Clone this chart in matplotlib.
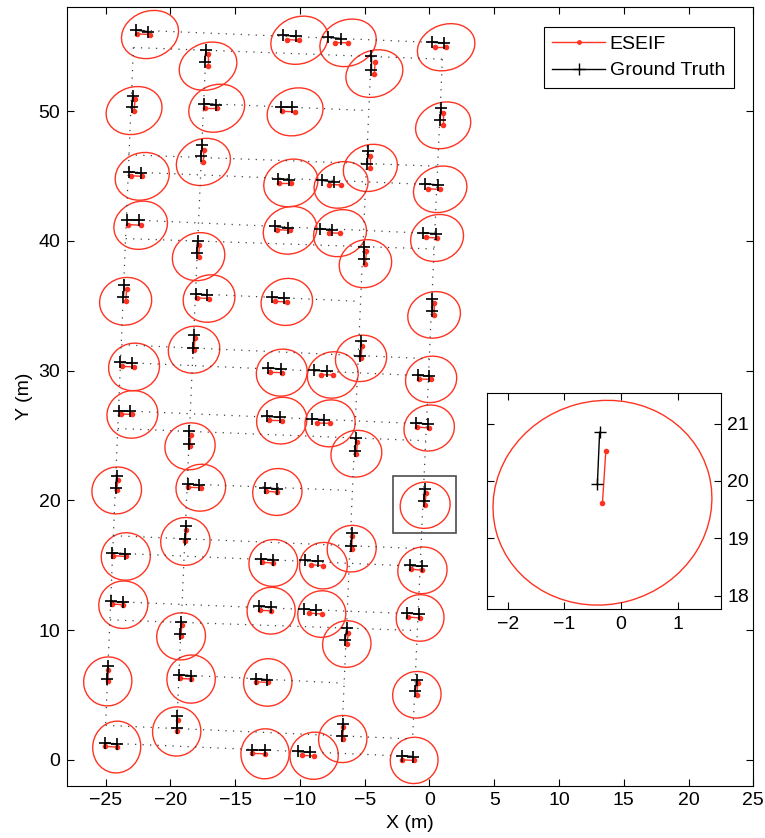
import numpy as np
import matplotlib.pyplot as plt
from matplotlib.patches import Ellipse, Rectangle
from matplotlib.lines import Line2D

plt.rcParams['font.family'] = ['Liberation Sans', 'DejaVu Sans']
plt.rcParams['font.size'] = 14

RED = '#ff3322'

# ground truth hurdle endpoints (x1, y1, x2, y2), columns A..E top to bottom
gt = [
    (-22.67, 56.24, -21.74, 56.13), (-22.90, 51.20, -22.98, 50.33), (-23.17, 45.31, -22.29, 45.23),
    (-23.37, 41.63, -22.39, 41.58), (-23.55, 36.62, -23.63, 35.64), (-23.88, 30.63, -22.98, 30.59),
    (-23.96, 26.91, -23.11, 26.85), (-24.14, 21.90, -24.22, 20.95), (-24.48, 15.94, -23.50, 15.88),
    (-24.60, 12.20, -23.67, 12.16), (-24.83, 7.19, -24.86, 6.25), (-25.04, 1.29, -24.14, 1.21),
    (-17.25, 54.70, -17.36, 53.80), (-17.40, 50.58, -16.49, 50.50), (-17.53, 47.36, -17.65, 46.52),
    (-17.90, 39.98, -17.98, 39.09), (-18.02, 35.91, -17.19, 35.83), (-18.17, 32.77, -18.25, 31.74),
    (-18.56, 25.31, -18.58, 24.36), (-18.66, 21.26, -17.78, 21.18), (-18.81, 17.99, -18.86, 17.04),
    (-19.17, 10.59, -19.23, 9.71), (-19.33, 6.55, -18.42, 6.48), (-19.46, 3.34, -19.51, 2.44),
    (-11.27, 55.84, -10.32, 55.77), (-11.47, 50.32, -10.58, 50.29), (-11.66, 44.79, -10.81, 44.72),
    (-11.92, 41.12, -10.93, 40.99), (-12.15, 35.64, -11.22, 35.60), (-12.43, 30.20, -11.45, 30.12),
    (-12.51, 26.47, -11.53, 26.39), (-12.69, 20.95, -11.78, 20.89), (-13.00, 15.47, -12.05, 15.42),
    (-13.13, 11.82, -12.22, 11.77), (-13.38, 6.25, -12.51, 6.17), (-13.67, 0.77, -12.69, 0.72),
    (-7.80, 55.69, -6.84, 55.59), (-4.50, 54.22, -4.50, 53.14), (-8.31, 44.66, -7.38, 44.54),
    (-4.76, 46.90, -4.79, 45.93), (-8.42, 40.90, -7.52, 40.87), (-5.02, 39.55, -5.07, 38.57),
    (-5.28, 32.25, -5.33, 31.15), (-8.90, 30.02, -7.92, 29.94), (-9.08, 26.27, -8.13, 26.21),
    (-5.66, 24.80, -5.74, 23.82), (-5.99, 17.48, -6.05, 16.50), (-9.60, 15.37, -8.57, 15.29),
    (-9.68, 11.62, -8.77, 11.51), (-6.38, 10.15, -6.51, 9.20), (-6.64, 2.78, -6.76, 1.85),
    (-10.12, 0.64, -9.21, 0.56),
    (0.19, 55.30, 1.14, 55.26), (0.88, 50.25, 0.83, 49.29), (-0.33, 44.39, 0.69, 44.31),
    (-0.46, 40.61, 0.49, 40.55), (0.23, 35.52, 0.23, 34.62), (-0.90, 29.63, 0.00, 29.58),
    (-1.03, 25.96, -0.12, 25.88), (-0.38, 20.85, -0.42, 19.94), (-1.49, 14.98, -0.54, 14.90),
    (-1.70, 11.31, -0.77, 11.23), (-0.97, 6.17, -1.10, 5.32), (-2.13, 0.31, -1.24, 0.25),
]

# ESEIF estimates of the same endpoints
est = [
    (-22.57, 55.95, -21.57, 55.90), (-22.72, 50.94, -22.80, 50.04), (-23.06, 45.02, -22.17, 44.97),
    (-23.24, 41.25, -22.29, 41.20), (-23.37, 36.29, -23.45, 35.34), (-23.75, 30.32, -22.80, 30.28),
    (-23.81, 26.65, -22.93, 26.62), (-24.04, 21.59, -24.14, 20.76), (-24.40, 15.73, -23.44, 15.67),
    (-24.52, 12.00, -23.63, 11.95), (-24.79, 6.94, -24.83, 6.04), (-25.02, 1.03, -24.14, 0.98),
    (-17.09, 54.41, -17.09, 53.46), (-17.30, 50.22, -16.42, 50.22), (-17.42, 46.98, -17.45, 46.08),
    (-17.75, 39.71, -17.82, 38.78), (-17.91, 35.60, -17.01, 35.55), (-18.09, 32.51, -18.17, 31.61),
    (-18.42, 25.06, -18.48, 24.16), (-18.61, 21.00, -17.65, 20.97), (-18.76, 17.73, -18.84, 16.83),
    (-19.12, 10.41, -19.17, 9.51), (-19.27, 6.27, -18.40, 6.22), (-19.43, 3.08, -19.51, 2.18),
    (-11.01, 55.51, -10.04, 55.46), (-11.35, 49.98, -10.37, 49.94), (-11.58, 44.46, -10.70, 44.46),
    (-11.78, 40.86, -10.76, 40.81), (-11.92, 35.33, -11.01, 35.29), (-12.30, 29.86, -11.40, 29.84),
    (-12.36, 26.16, -11.40, 26.14), (-12.63, 20.69, -11.74, 20.64), (-12.94, 15.21, -12.05, 15.17),
    (-13.07, 11.51, -12.22, 11.49), (-13.38, 6.01, -12.48, 5.96), (-13.67, 0.49, -12.69, 0.46),
    (-7.26, 55.28, -6.28, 55.26), (-4.19, 53.82, -4.25, 52.89), (-7.72, 44.33, -6.82, 44.31),
    (-4.56, 46.55, -4.56, 45.62), (-7.75, 40.61, -6.90, 40.59), (-4.86, 39.24, -4.94, 38.24),
    (-5.20, 31.87, -5.28, 30.94), (-8.39, 29.68, -7.46, 29.66), (-8.65, 25.96, -7.67, 25.93),
    (-5.56, 24.46, -5.64, 23.59), (-5.95, 17.22, -6.00, 16.27), (-9.14, 15.03, -8.18, 14.96),
    (-9.27, 11.31, -8.31, 11.23), (-6.25, 9.77, -6.38, 8.92), (-6.64, 2.52, -6.69, 1.60),
    (-9.85, 0.33, -8.90, 0.31),
    (0.42, 54.92, 1.29, 54.92), (1.06, 49.86, 1.06, 48.90), (-0.10, 44.00, 0.83, 43.97),
    (-0.28, 40.27, 0.59, 40.22), (0.39, 35.21, 0.36, 34.29), (-0.77, 29.35, 0.13, 29.32),
    (-0.93, 25.65, -0.02, 25.57), (-0.27, 20.53, -0.33, 19.62), (-1.44, 14.70, -0.54, 14.60),
    (-1.62, 11.00, -0.72, 10.93), (-0.90, 5.91, -0.97, 5.01), (-2.13, 0.00, -1.18, -0.05),
]

# covariance ellipse (width, height, angle) drawn about each estimate's second endpoint
ell = [
    (4.50, 3.60, 20), (4.40, 3.60, 20), (4.25, 3.60, 20), (4.20, 3.65, 20), (4.05, 3.65, 15), (3.95, 3.65, 15),
    (3.95, 3.65, 15), (3.85, 3.60, 15), (3.80, 3.65, 15), (3.80, 3.65, 15), (3.80, 3.70, 60), (4.00, 3.70, 80),
    (4.55, 3.60, 20), (4.40, 3.60, 20), (4.25, 3.55, 20), (4.10, 3.65, 20), (4.05, 3.60, 20), (4.00, 3.60, 15),
    (3.90, 3.60, 15), (3.85, 3.60, 15), (3.82, 3.68, 15), (3.78, 3.62, 15), (3.75, 3.70, 30), (3.80, 3.72, 70),
    (4.50, 3.60, 20), (4.40, 3.60, 20), (4.25, 3.60, 20), (4.20, 3.60, 20), (4.00, 3.60, 15), (3.95, 3.60, 15),
    (3.90, 3.58, 15), (3.82, 3.60, 15), (3.78, 3.60, 15), (3.72, 3.60, 15), (3.75, 3.65, 20), (3.86, 3.72, 80),
    (4.45, 3.55, 20), (4.50, 3.55, 20), (4.25, 3.50, 20), (4.25, 3.55, 20), (4.15, 3.55, 20), (4.10, 3.65, 20),
    (3.98, 3.55, 15), (3.95, 3.55, 15), (3.90, 3.60, 15), (3.95, 3.58, 15), (3.80, 3.58, 15), (3.70, 3.58, 15),
    (3.72, 3.58, 15), (3.75, 3.58, 15), (3.75, 3.62, 20), (3.75, 3.62, 20),
    (4.55, 3.50, 20), (4.35, 3.50, 20), (4.20, 3.50, 20), (4.15, 3.55, 20), (4.10, 3.55, 15), (3.98, 3.55, 15),
    (3.92, 3.52, 15), (3.88, 3.55, 15), (3.82, 3.58, 15), (3.70, 3.58, 15), (3.75, 3.58, 15), (3.70, 3.56, 15),
]

# dotted course lines (x0, y0, x1, y1)
columns = [
    (-22.85, 54.90, -25.00, 2.65), (-17.25, 54.70, -19.51, 2.44),
    (-4.50, 54.22, -6.76, 1.85), (1.00, 54.00, -1.30, 1.60),
]
rows = [
    (-22.67, 56.24, 1.14, 55.26), (-23.17, 45.31, 0.69, 44.31), (-23.37, 41.63, 0.49, 40.55),
    (-23.88, 30.63, 0.00, 29.58), (-23.96, 26.91, -0.12, 25.88), (-24.48, 15.94, -0.54, 14.90),
    (-24.60, 12.20, -0.77, 11.23), (-25.04, 1.29, -1.24, 0.25),
    (-22.85, 54.90, 1.00, 54.00), (-23.45, 40.17, 0.36, 39.37), (-24.06, 25.53, -0.29, 24.59),
    (-24.66, 10.78, -0.93, 9.96),
    (-23.25, 46.63, 0.64, 45.75), (-23.79, 31.99, -0.01, 30.91), (-24.40, 17.27, -0.65, 16.27),
    (-25.00, 2.65, -1.30, 1.60),
    (-17.40, 50.58, -4.68, 50.04), (-18.02, 35.91, -5.32, 35.33), (-18.66, 21.26, -5.95, 20.75),
    (-19.33, 6.55, -6.58, 5.90),
]

zoom_idx = 59  # hurdle shown in the inset
zoom_box = (-2.78, 17.50, 4.84, 4.35)


def draw_hurdle(ax, i, ms=8.5, mew=1.2):
    e = est[i]
    g = gt[i]
    w, h, a = ell[i]
    ax.add_patch(Ellipse((e[2], e[3]), w, h, angle=a, fill=False, ec=RED, lw=1.0))
    ax.plot([e[0], e[2]], [e[1], e[3]], '-', color=RED, marker='o', ms=3, lw=1.0)
    ax.plot([g[0], g[2]], [g[1], g[3]], '-', color='k', marker='+', ms=ms, mew=mew, lw=1.0)


fig = plt.figure(figsize=(7.65, 8.38), dpi=100)
ax = fig.add_axes([0.0872, 0.0624, 0.8975, 0.9289])

for x0, y0, x1, y1 in columns + rows:
    ax.plot([x0, x1], [y0, y1], color='0.25', lw=0.9, linestyle=(0, (1, 5)))
for i in range(len(gt)):
    draw_hurdle(ax, i)

bx, by, bw, bh = zoom_box
ax.add_patch(Rectangle((bx, by), bw, bh, fill=False, ec='0.3', lw=1.2))

ax.set_xlim(-28, 25)
ax.set_ylim(-2, 58)
ax.set_xticks(np.arange(-25, 26, 5))
ax.set_yticks(np.arange(0, 51, 10))
ax.tick_params(direction='in', top=True, right=True, length=5, width=0.8, pad=4.5)
ax.set_xlabel('X (m)')
ax.set_ylabel('Y (m)')

handles = [
    Line2D([], [], color=RED, marker='o', ms=2.5, lw=1.0),
    Line2D([], [], color='k', marker='+', ms=8, mew=1.0, lw=1.0),
]
leg = ax.legend(handles, ['ESEIF', 'Ground Truth'], loc='upper right', fancybox=False,
                edgecolor='k', framealpha=1, borderaxespad=1.0, borderpad=0.45,
                handlelength=2.7, handletextpad=0.25, labelspacing=0.45)
leg.get_frame().set_linewidth(0.8)

# inset around one hurdle
axi = fig.add_axes([0.637, 0.2729, 0.3055, 0.2578])
draw_hurdle(axi, zoom_idx, ms=9, mew=1.0)
axi.set_xlim(-2.36, 1.76)
axi.set_ylim(17.76, 21.53)
axi.set_xticks([-2, -1, 0, 1])
axi.set_yticks([18, 19, 20, 21])
axi.yaxis.tick_right()
axi.tick_params(direction='in', top=True, left=True, right=True, length=5, width=0.8, pad=4.5)

fig.savefig('out.png', dpi=100)
